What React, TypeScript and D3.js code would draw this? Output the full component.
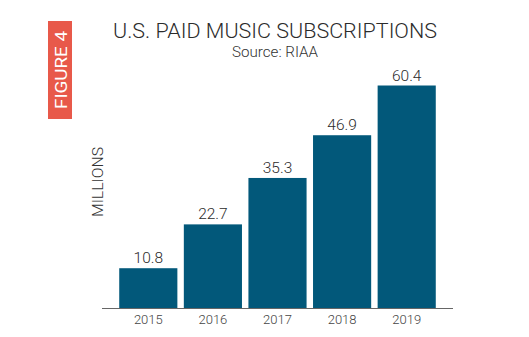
import React from "react";
import * as d3 from "d3";

const years = ["2015", "2016", "2017", "2018", "2019"];
const values = [10.8, 22.7, 35.3, 46.9, 60.4];
const title = "U.S. PAID MUSIC SUBSCRIPTIONS";
const subtitle = "Source: RIAA";
const yLabel = "MILLIONS";
const figureLabel = "FIGURE 4";

const W = 529;
const H = 337;
const FONT = "Roboto, 'DejaVu Sans', sans-serif";

export default function App() {
  const x = d3.scaleBand<string>().domain(years).range([116, 439]).paddingInner(0.1).paddingOuter(0.05);
  const y = d3.scaleLinear().domain([0, 60.4]).range([308, 85.5]);
  const base = y(0);
  return (
    <svg width={W} height={H} style={{ position: "absolute", left: 0, top: 0, background: "#fff" }}>
      <rect x={48} y={21} width={24} height={98} fill="#E8594A" />
      <text
        transform="translate(66.5,70) rotate(-90)"
        textAnchor="middle"
        fill="#fff"
        fontFamily={FONT}
        fontSize={17}
        textLength={78}
        lengthAdjust="spacingAndGlyphs"
      >
        {figureLabel}
      </text>
      <text x={275} y={38} textAnchor="middle" fill="#2b2b2b" fontFamily={FONT} fontWeight={300} fontSize={21} textLength={324} lengthAdjust="spacingAndGlyphs">
        {title}
      </text>
      <text x={275} y={57} textAnchor="middle" fill="#333" fontFamily={FONT} fontWeight={300} fontSize={14} textLength={86} lengthAdjust="spacingAndGlyphs">
        {subtitle}
      </text>
      <text
        transform="translate(103,182) rotate(-90)"
        textAnchor="middle"
        fill="#333"
        fontFamily={FONT}
        fontWeight={300}
        fontSize={14.5}
        textLength={70}
        lengthAdjust="spacingAndGlyphs"
      >
        {yLabel}
      </text>
      {years.map((yr, i) => (
        <g key={yr}>
          <rect x={x(yr)} y={y(values[i])} width={x.bandwidth()} height={base - y(values[i])} fill="#02587A" />
          <text
            x={(x(yr) as number) + x.bandwidth() / 2}
            y={y(values[i]) - 5}
            textAnchor="middle"
            fill="#2b2b2b"
            fontFamily={FONT}
            fontWeight={300}
            fontSize={15.5}
          >
            {values[i].toFixed(1)}
          </text>
          <text
            x={(x(yr) as number) + x.bandwidth() / 2}
            y={323.5}
            textAnchor="middle"
            fill="#444"
            fontFamily={FONT}
            fontWeight={300}
            fontSize={13}
          >
            {yr}
          </text>
        </g>
      ))}
      <line x1={102} x2={453} y1={base + 0.5} y2={base + 0.5} stroke="#666" strokeWidth={1} />
    </svg>
  );
}
